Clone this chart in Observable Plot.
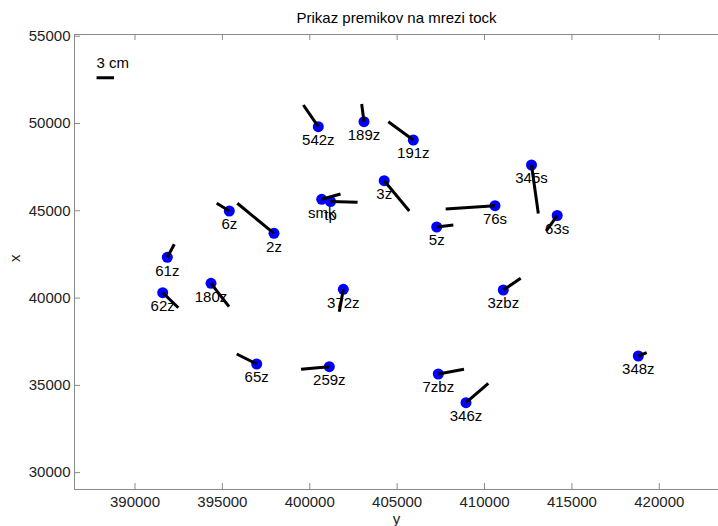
<!DOCTYPE html>
<html>
<head>
<meta charset="utf-8">
<script src="https://cdn.jsdelivr.net/npm/d3@7"></script>
<script src="https://cdn.jsdelivr.net/npm/@observablehq/plot@0.6"></script>
<style>
  html, body { margin: 0; padding: 0; background: #fff; }
  #chart { width: 718px; height: 526px; }
</style>
</head>
<body>
<div id="chart"></div>
<script>
// Point names
const names = ["542z","189z","191z","3z","345s","76s","63s","5z","6z","2z","smk","tp",
               "61z","62z","180z","372z","65z","259z","3zbz","348z","7zbz","346z"];
// Horizontal coordinate (axis labelled "y")
const eastY = [400488,403103,405924,404259,412687,410598,414158,407263,395396,397953,400683,401186,
               391848,391585,394349,401919,396963,401118,411073,418798,407354,408939];
// Vertical coordinate (axis labelled "x")
const northX = [49816,50103,49055,46723,47623,45291,44730,44071,44988,43710,45658,45532,
                42336,40308,40846,40503,36224,36069,40463,36682,35651,34007];
// Displacements in cm (along y and x)
const dispY = [-2.57,-0.40,-4.29,4.31,1.17,-8.46,-1.89,2.85,-2.16,-6.30,3.23,4.64,
               1.20,2.68,3.09,-0.69,-3.43,-4.86,2.99,1.44,4.41,3.83];
const dispX = [3.73,3.04,3.14,-5.21,-8.33,-0.57,-2.63,0.35,1.32,5.16,0.91,-0.14,
               2.23,-2.58,-4.02,-3.85,1.72,-0.45,2.01,0.57,0.81,3.33];
// Scale: 3 cm drawn as 1000 map units
const unitsPerCm = 1000 / 3;
const legendCm = [3];
const legendLabel = ["3 cm"];
const legendAt = [387800, 52620];

const xTicks = [390000,395000,400000,405000,410000,415000,420000];
const yTicks = [30000,35000,40000,45000,50000,55000];
const title = ["Prikaz premikov na mrezi tock"];
const xLabel = ["y"];
const yLabel = ["x"];

const rows = names.map((n, i) => ({
  name: n, e: eastY[i], n: northX[i],
  e2: eastY[i] + dispY[i] * unitsPerCm,
  n2: northX[i] + dispX[i] * unitsPerCm
}));
const legend = legendCm.map((c, i) => ({
  e: legendAt[0], n: legendAt[1], e2: legendAt[0] + c * unitsPerCm, label: legendLabel[i]
}));

const W = 718, H = 526, mt = 34, mb = 37, ml = 74, mr = 0;
const fh = H - mt - mb, fw = W - ml - mr;
const axisCol = "#8a8a8a";
const txtCol = "#222";
const fmt = d3.format("d");

const chart = Plot.plot({
  width: W, height: H,
  marginTop: mt, marginBottom: mb, marginLeft: ml, marginRight: mr,
  style: { fontFamily: "'Liberation Sans', Arial, sans-serif", fontSize: "15px", background: "#fff" },
  x: { domain: [386538, 423387] },
  y: { domain: [29035, 55098] },
  marks: [
    Plot.frame({ stroke: axisCol }),
    Plot.tickX(xTicks, { x: d => d, stroke: axisCol, insetTop: fh - 6 }),
    Plot.tickX(xTicks, { x: d => d, stroke: axisCol, insetBottom: fh - 6 }),
    Plot.tickY(yTicks, { y: d => d, stroke: axisCol, insetRight: fw - 6 }),
    Plot.axisX({ ticks: xTicks, tickSize: 0, tickPadding: 7, tickFormat: fmt, label: null, fill: txtCol, fontSize: 15 }),
    Plot.axisY({ ticks: yTicks, tickSize: 0, tickPadding: 4, tickFormat: fmt, label: null, fill: txtCol, fontSize: 15 }),
    Plot.dot(rows, { x: "e", y: "n", r: 5.5, fill: "#0000ff", stroke: null }),
    Plot.text(rows, { x: "e", y: "n", text: "name", dy: 13.5, lineAnchor: "middle", fill: "#000", fontSize: 15 }),
    Plot.link(rows, { x1: "e", y1: "n", x2: "e2", y2: "n2", stroke: "#000", strokeWidth: 3 }),
    Plot.link(legend, { x1: "e", y1: "n", x2: "e2", y2: "n", stroke: "#000", strokeWidth: 3 }),
    Plot.text(legend, { x: "e", y: "n", text: "label", dy: -14.5, textAnchor: "start", lineAnchor: "middle", fill: "#000", fontSize: 15 }),
    Plot.text(title, { text: d => d, frameAnchor: "top", dy: -16, lineAnchor: "middle", fill: "#000", fontSize: 15 }),
    Plot.text(xLabel, { text: d => d, frameAnchor: "bottom", dy: 29.5, lineAnchor: "middle", fill: txtCol, fontSize: 15 }),
    Plot.text(yLabel, { text: d => d, frameAnchor: "left", dx: -59.5, rotate: -90, lineAnchor: "middle", fill: txtCol, fontSize: 15 })
  ]
});
document.getElementById("chart").appendChild(chart);
</script>
</body>
</html>
